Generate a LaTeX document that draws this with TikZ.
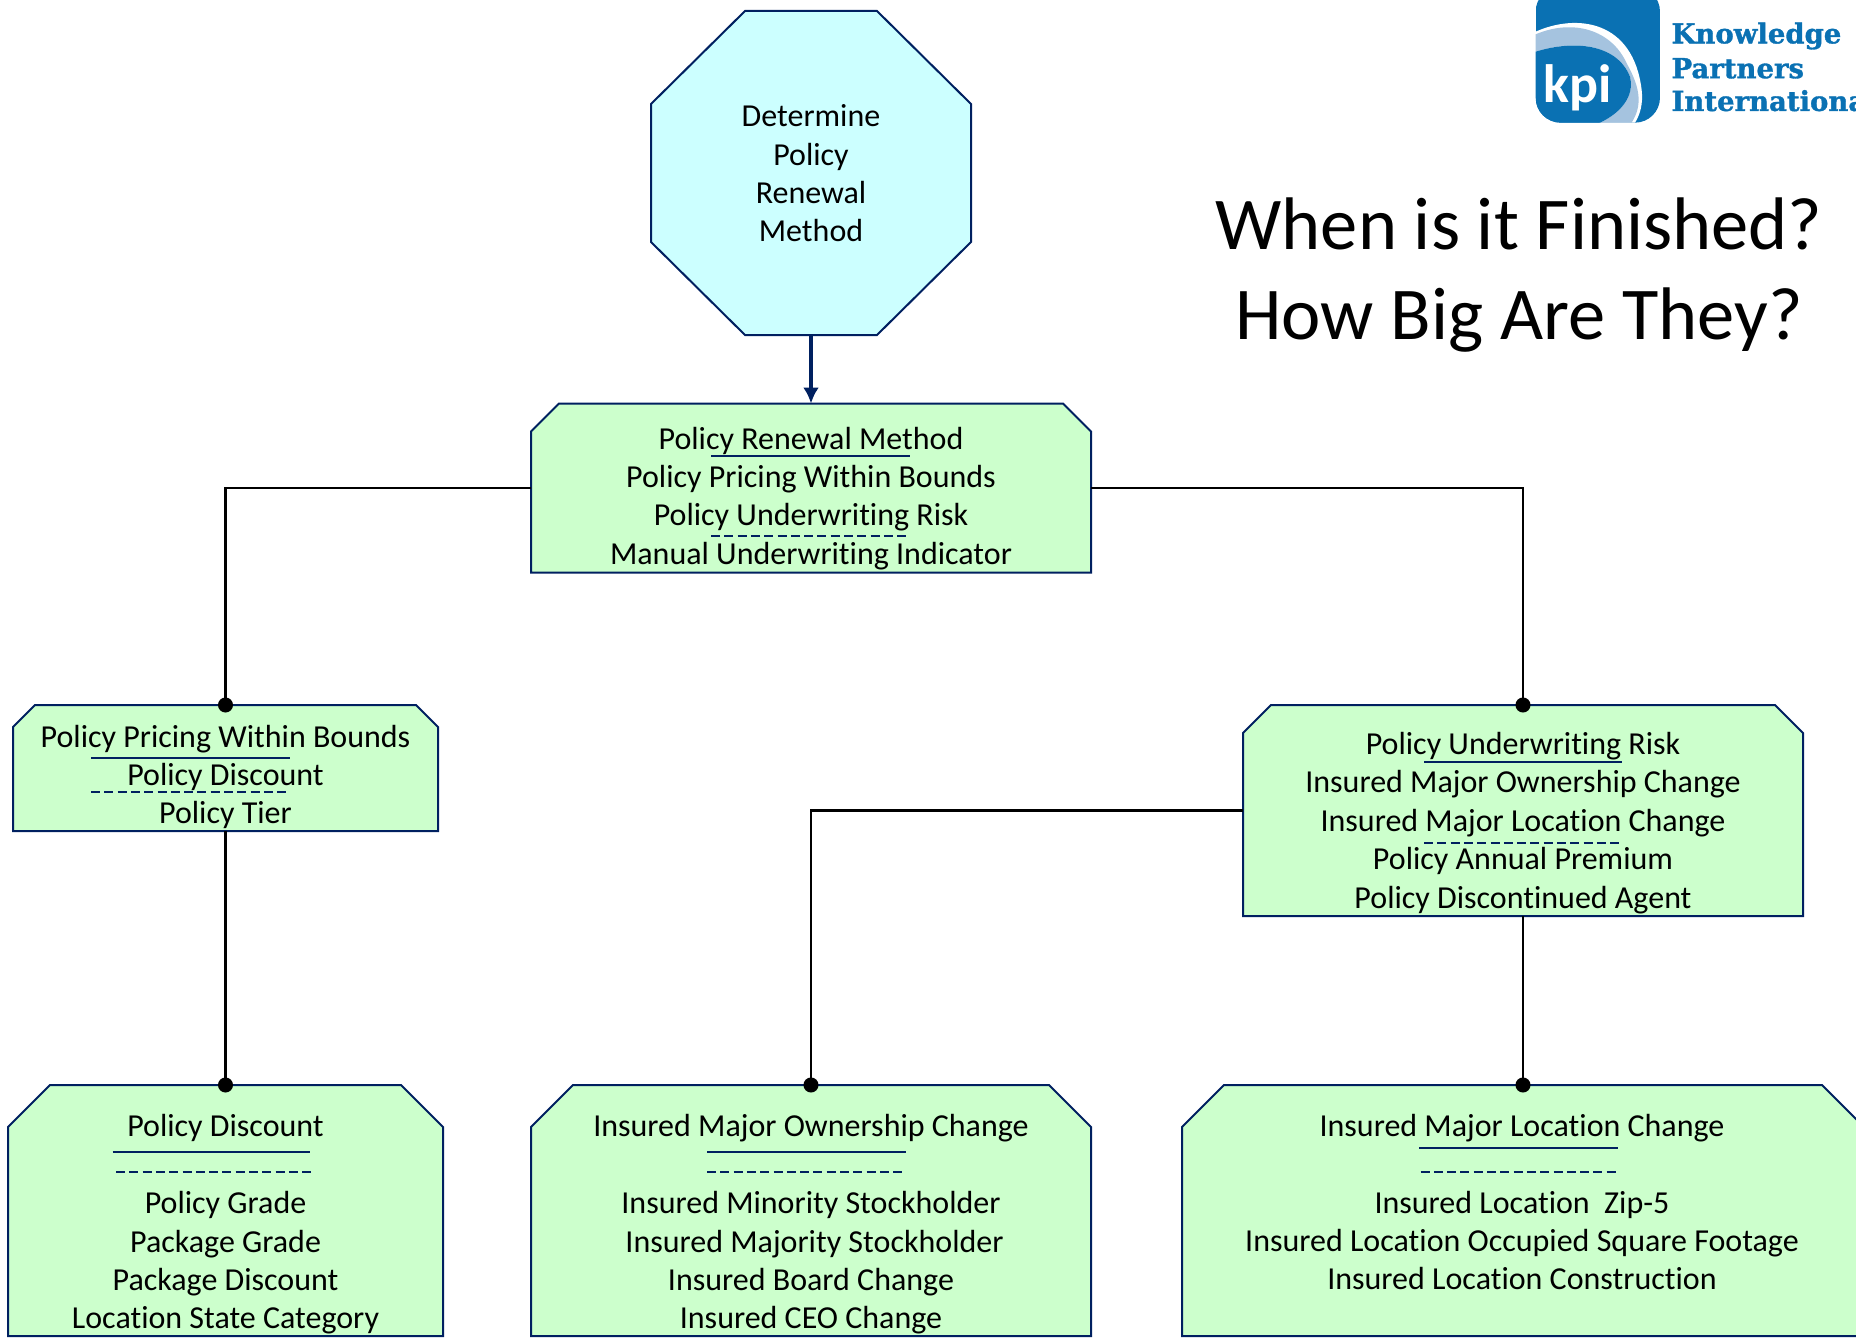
\documentclass[tikz,border=0pt]{standalone}
\usepackage{fontspec}
\setmainfont{Carlito}[Ligatures=NoCommon]
\newfontfamily\logofont{DejaVu Serif}[BoldFeatures={FakeBold=1.2}]
\usetikzlibrary{calc,arrows.meta}
\definecolor{navyline}{HTML}{002060}
\definecolor{boxgreen}{HTML}{CCFFCC}
\definecolor{octcyan}{HTML}{CCFFFF}
\definecolor{logoblue}{HTML}{0A71B3}
\definecolor{logolight}{HTML}{A5C3DF}
\tikzset{
  anchorbox/.style={rectangle,inner sep=0pt,outer sep=0pt},
  chamshape/.style={draw=navyline,line width=2pt,fill=boxgreen,line join=miter},
  octshape/.style={draw=navyline,line width=2pt,fill=octcyan,line join=miter},
  label/.style={align=center,font=\fontsize{32}{38.4}\selectfont,text=black,inner sep=0pt},
  title/.style={align=center,font=\fontsize{74.5}{90}\selectfont,text=black,inner sep=0pt},
  link/.style={draw=black,line width=2.4pt},
  dotlink/.style={link,-{Circle[length=15pt,width=15pt]},shorten >=-7.5pt},
  main/.style={draw=navyline,line width=3.4pt,-{Latex[length=16pt,width=16pt]}},
  solidrule/.style={draw=navyline,line width=2pt},
  dashrule/.style={draw=navyline,line width=1.5pt,dash pattern=on 9pt off 4.3pt},
  logotext/.style={font=\logofont\bfseries\fontsize{27.5}{27.5}\selectfont,text=logoblue,anchor=west,inner sep=0pt}
}
% name, centre x, centre y, width, height, cut
\newcommand{\chamfernode}[6]{%
  \node[anchorbox,minimum width=#4pt,minimum height=#5pt] (#1) at (#2,#3) {};
  \draw[chamshape] ($(#1.north west)+(0,#6)$) -- ($(#1.north west)+(#6,0)$)
    -- ($(#1.north east)+(-#6,0)$) -- ($(#1.north east)+(0,#6)$)
    -- (#1.south east) -- (#1.south west) -- cycle;}
\begin{document}
\begin{tikzpicture}[x=1pt,y=-1pt]
\useasboundingbox (0,0) rectangle (1856,1338);
\clip (0,0) rectangle (1856,1338);
% logo
\begin{scope}[shift={(1500,0)},x=0.3333pt,y=-0.3333pt]
  \begin{scope}
    \clip[rounded corners=25pt] (107,-40) rectangle (480,368);
    \fill[logoblue] (107,-40) rectangle (480,368);
    \fill[white] (107,95) .. controls (230,40) and (400,60) .. (425,270) .. controls (430,310) and (420,345) .. (405,368) -- (300,368) -- (107,200) -- cycle;
    \fill[logolight] (107,103) .. controls (220,55) and (335,90) .. (380,190) .. controls (425,270) and (425,320) .. (395,368) -- (300,368) .. controls (360,340) and (405,290) .. (390,230) .. controls (350,130) and (220,120) .. (107,155) -- cycle;
    \fill[logoblue] (107,155) .. controls (220,120) and (350,130) .. (390,230) .. controls (405,290) and (360,340) .. (300,368) -- (107,368) -- cycle;
  \end{scope}
  \node[font=\bfseries\fontsize{54}{54}\selectfont,text=white,inner sep=0pt] (kpi) at (232,262) {kpi};
  \node[logotext] (lk) at (514,108) {Knowledge};
  \node[logotext] (lp) at (514,205) {Partners};
  \node[logotext] (li) at (514,302) {International};
\end{scope}
% title
\node[title] (ttl) at (1519,275.5) {When is it Finished?\\How Big Are They?};
% boxes
\node[anchorbox,minimum width=320pt,minimum height=324pt] (oct) at (811,173) {};
\draw[octshape] ($(oct.north west)+(94,0)$) -- ($(oct.north east)+(-94,0)$)
  -- ($(oct.north east)+(0,93)$) -- ($(oct.south east)+(0,-93)$)
  -- ($(oct.south east)+(-94,0)$) -- ($(oct.south west)+(94,0)$)
  -- ($(oct.south west)+(0,-93)$) -- ($(oct.north west)+(0,93)$) -- cycle;
\node[label] (toct) at (811,173.4) {Determine\\Policy\\Renewal\\Method};
\chamfernode{b1}{811}{488}{560}{169}{28}
\node[label] (t1) at (811,498.4) {Policy Renewal Method\\Policy Pricing Within Bounds\\Policy Underwriting Risk\\Manual Underwriting Indicator};
\chamfernode{b2}{225.5}{768}{425}{126}{22}
\node[label] (t2) at (225.5,777) {Policy Pricing Within Bounds\\Policy Discount\\Policy Tier};
\chamfernode{b3}{1523}{810.5}{560}{211}{28}
\node[label] (t3) at (1523,823) {Policy Underwriting Risk\\Insured Major Ownership Change\\Insured Major Location Change\\Policy Annual Premium\\Policy Discontinued Agent};
\chamfernode{b4}{225.5}{1210.5}{435}{251}{42}
\node[label] (t4) at (225.5,1224.6) {Policy Discount\\[38.4pt]Policy Grade\\Package Grade\\Package Discount\\Location State Category};
\chamfernode{b5}{811}{1210.5}{560}{251}{42}
\node[label] (t5) at (811,1224.6) {Insured Major Ownership Change\\[38.4pt]Insured Minority Stockholder\\\hspace*{7pt}Insured Majority Stockholder\\Insured Board Change\\Insured CEO Change};
\chamfernode{b6}{1523}{1210.5}{682}{251}{42}
\node[label] (t6) at (1522,1202) {Insured Major Location Change\\[38.4pt]Insured Location\ \ Zip-5\\Insured Location Occupied Square Footage\\Insured Location Construction};
% rules
\coordinate (r1a) at (711,455.7); \coordinate (r1b) at (910,455.7);
\coordinate (d1a) at (711,536.2); \coordinate (d1b) at (910,536.2);
\coordinate (r2a) at (91,757.6); \coordinate (r2b) at (290,757.6);
\coordinate (d2a) at (91,792); \coordinate (d2b) at (290,792);
\coordinate (r3a) at (1424,762.3); \coordinate (r3b) at (1622,762.3);
\coordinate (d3a) at (1424,842.8); \coordinate (d3b) at (1622,842.8);
\coordinate (r4a) at (112.5,1151.7); \coordinate (r4b) at (310,1151.7);
\coordinate (d4a) at (116,1171.9); \coordinate (d4b) at (313.7,1171.9);
\coordinate (r5a) at (707,1151.7); \coordinate (r5b) at (905.5,1151.7);
\coordinate (d5a) at (707,1171.9); \coordinate (d5b) at (905.5,1171.9);
\coordinate (r6a) at (1419,1148); \coordinate (r6b) at (1618,1148);
\coordinate (d6a) at (1420.5,1171.9); \coordinate (d6b) at (1619,1171.9);
\foreach \i in {1,...,6}{
  \draw[solidrule] (r\i a) -- (r\i b);
  \draw[dashrule] (d\i a) -- (d\i b);
}
% connectors
\draw[main] (oct.south) -- (b1.north);
\draw[dotlink] (b1.west) -| (b2.north);
\draw[dotlink] (b1.east) -| (b3.north);
\draw[dotlink] (b2.south) -- (b4.north);
\draw[dotlink] (b3.west) -| (b5.north);
\draw[dotlink] (b3.south) -- (b6.north);
\end{tikzpicture}
\end{document}
